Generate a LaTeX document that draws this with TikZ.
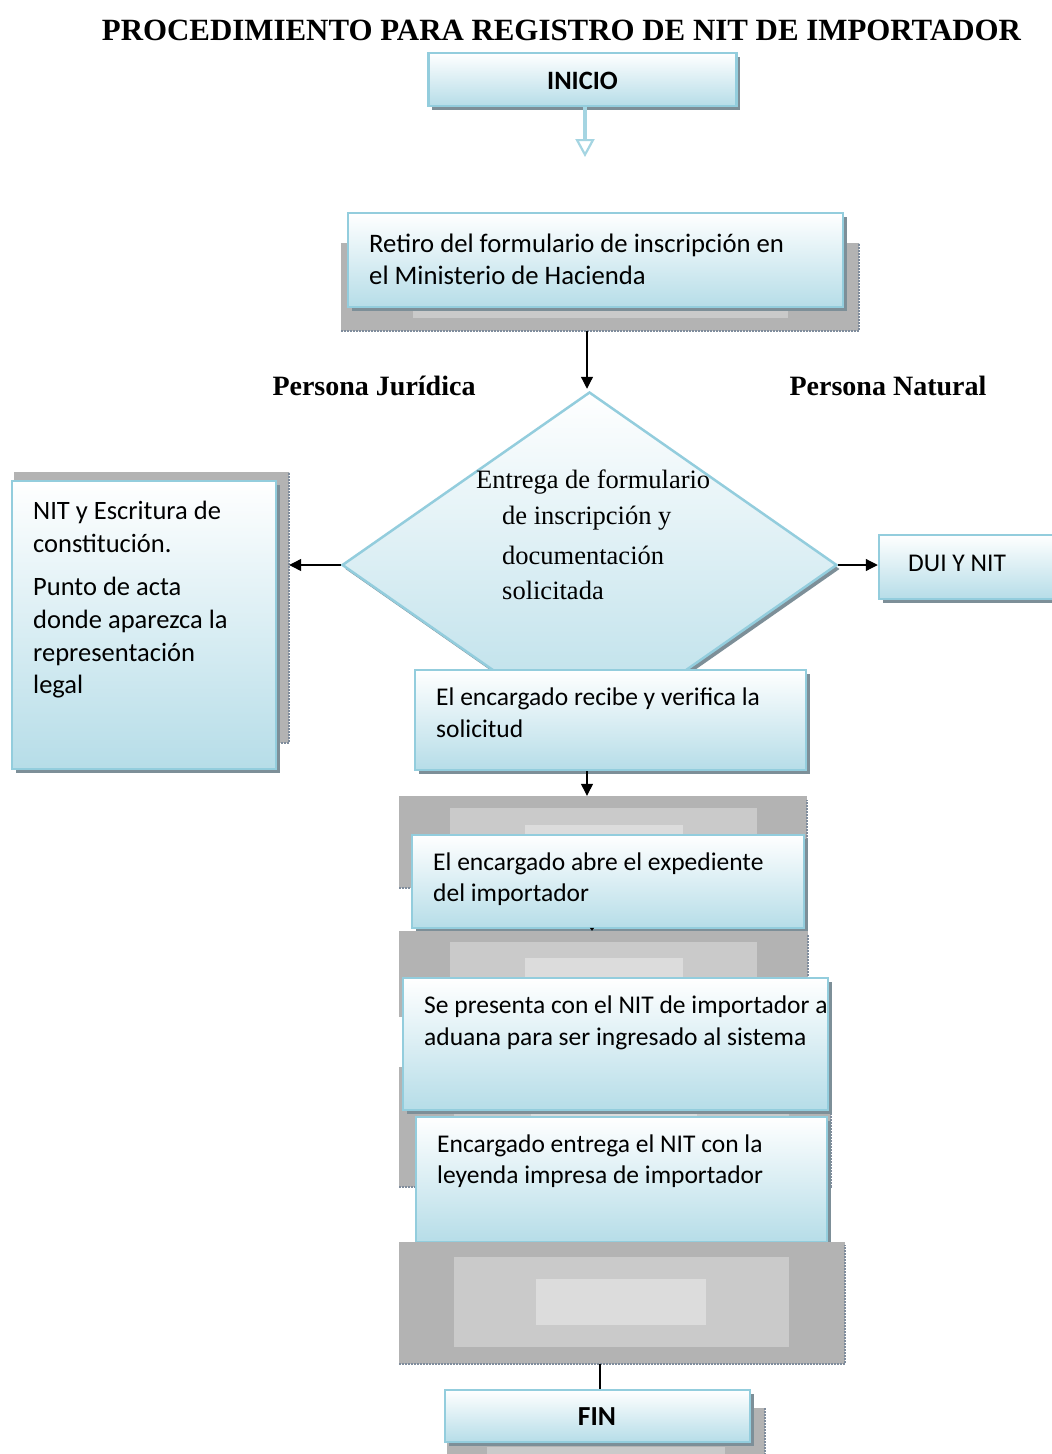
\documentclass[tikz,border=0pt]{standalone}
\usepackage{fontspec}
\setmainfont{Liberation Serif}
\newfontfamily\calfont{Carlito}
\usetikzlibrary{arrows.meta,shapes.geometric,shadows}
\definecolor{bborder}{HTML}{93CDDD}
\definecolor{bfill}{HTML}{B6DDE8}
\definecolor{shd}{HTML}{7D8F98}
\definecolor{g1}{HTML}{B3B3B3}
\definecolor{g2}{HTML}{CACACA}
\definecolor{g3}{HTML}{DCDCDC}
\definecolor{gedge}{HTML}{7F8C9C}
\definecolor{arrblue}{HTML}{A5D5E2}
\tikzset{
  bx/.style={draw=bborder, line width=2.5pt, top color=white, bottom color=bfill, inner sep=0pt,
    drop shadow={shadow xshift=3.5pt, shadow yshift=-3.5pt, fill=shd, opacity=1}},
  gbk/.style={fill=g1, draw=none, inner sep=0pt},
  dotedge/.style={draw=gedge, line width=1.5pt, dash pattern=on 2pt off 1pt},
  ct/.style={font=\calfont\fontsize{25.5}{31}\selectfont, anchor=base west, inner sep=0pt},
  ctb/.style={font=\calfont\fontsize{26.7}{32}\selectfont, anchor=base west, inner sep=0pt},
  ctl/.style={font=\calfont\fontsize{26.5}{33}\selectfont, anchor=base west, inner sep=0pt},
  st/.style={font=\fontsize{26.5}{32}\selectfont, anchor=base west, inner sep=0pt},
  lbl/.style={font=\fontsize{28}{32}\selectfont\bfseries, anchor=base, inner sep=0pt},
  arr/.style={black, line width=1.2pt, -{Triangle[length=12pt,width=12pt]}},
}
\begin{document}
\begin{tikzpicture}[x=1pt,y=-1pt]
\useasboundingbox (0,0) rectangle (1052,1454);
\fill[white] (0,0) rectangle (1052,1454);

% title
\node[font=\fontsize{30.9}{36}\selectfont\bfseries, anchor=base, inner sep=0pt] (title) at (561.5,40) {PROCEDIMIENTO PARA REGISTRO DE NIT DE IMPORTADOR};

% INICIO
\node[bx, minimum width=308, minimum height=53] (inicio) at (582.5,79.5) {};
\node[font=\calfont\fontsize{26.5}{30}\selectfont\bfseries, anchor=base, inner sep=0pt] (inicioT) at (582.5,89) {INICIO};
\coordinate (a1) at (585,157);
\draw[line width=4pt, arrblue, -{Triangle[open, length=18pt, width=19pt, line width=2.2pt]}] (inicio.south -| a1) -- (a1);

% Retiro
\node[gbk, minimum width=518, minimum height=88] (retB) at (600,287) {};
\fill[g2] (413,307) rectangle (788,318);
\draw[dotedge] (341,331) -- (859,331) -- (859,243);
\node[bx, minimum width=495, minimum height=94] (retiro) at (595.5,260) {};
\node[ctb] (retT1) at (369,252) {Retiro del formulario de inscripción en};
\node[ctb] (retT2) at (369,284) {el Ministerio de Hacienda};

% labels
\node[lbl] (pj) at (374,395) {Persona Jurídica};
\node[lbl] (pn) at (888,395) {Persona Natural};

% left backdrop and box
\node[gbk, minimum width=275, minimum height=271] (leftB) at (151.5,607.5) {};
\draw[dotedge] (14,743) -- (289,743) -- (289,472);
\node[bx, minimum width=264, minimum height=288] (left) at (144,625) {};
\node[ctl] (lt1) at (33,519) {NIT y Escritura de};
\node[ctl] (lt2) at (33,552) {constitución.};
\node[ctl] (lt3) at (33,595) {Punto de acta};
\node[ctl] (lt4) at (33,628) {donde aparezca la};
\node[ctl] (lt5) at (33,661) {representación};
\node[ctl] (lt6) at (33,693) {legal};

% DUI
\node[bx, minimum width=183, minimum height=64] (dui) at (970.5,567) {};
\node[ct] (duiT) at (908,571) {DUI Y NIT};

% diamond
\node[diamond, draw=bborder, line width=2.5pt, top color=white, bottom color=bfill,
  minimum width=495, minimum height=346, inner sep=0pt,
  drop shadow={shadow xshift=3pt, shadow yshift=-4pt, fill=shd, opacity=1}] (dia) at (589.5,565) {};
\node[st] (d1) at (476,488) {Entrega de formulario};
\node[st] (d2) at (502,524) {de inscripción y};
\node[st] (d3) at (502,564) {documentación};
\node[st] (d4) at (502,599) {solicitada};

\coordinate (cx) at (587,0);
\draw[arr, shorten >=2pt] (cx |- retB.south) -- (cx |- dia.north);
\draw[arr] (dia.west) -- (leftB.east |- dia.west);
\draw[arr] (dia.east) -- (dui.west |- dia.east);

% recibe
\node[bx, minimum width=391, minimum height=100] (recibe) at (610.5,720) {};
\node[ct] (rt1) at (436,705) {El encargado recibe y verifica la};
\node[ct] (rt2) at (436,737) {solicitud};

% backdrop 2
\node[gbk, minimum width=408, minimum height=92] (b2) at (603,842) {};
\fill[g2] (450,808) rectangle (757,860);
\fill[g3] (525,825) rectangle (683,860);
\draw[dotedge] (399,888) -- (807,888) -- (807,800);
\draw[arr] (recibe.south -| cx) -- (b2.north -| cx);

% box 3
\node[bx, minimum width=392, minimum height=93] (abre) at (608,881.5) {};
\node[ct] (at1) at (433,870) {El encargado abre el expediente};
\node[ct] (at2) at (433,901) {del importador};

% backdrop 3
\node[gbk, minimum width=409, minimum height=86] (b3) at (603.5,974) {};
\fill[g2] (450,942) rectangle (757,1000);
\fill[g3] (525,958) rectangle (683,1000);
\draw[dotedge] (808,935) -- (808,1017);
\coordinate (t3) at (592,0);
\draw[line width=0.5pt, -{Triangle[length=3pt,width=4pt]}] (abre.south -| t3) -- (b3.north -| t3);

% backdrop 4
\node[gbk, minimum width=432, minimum height=120] (b4) at (615,1127) {};
\fill[g2] (454,1100) rectangle (789,1160);
\fill[g3] (531,1105) rectangle (697,1160);
\draw[dotedge] (399,1187) -- (831,1187) -- (831,1073);

% box 4
\node[bx, minimum width=425, minimum height=132] (presenta) at (615.5,1044) {};
\node[ct] (pt1) at (424,1013) {Se presenta con el NIT de importador a};
\node[ct] (pt2) at (424,1045) {aduana para ser ingresado al sistema};

% box 5
\node[bx, minimum width=411, minimum height=125] (entrega) at (621.5,1179.5) {};
\node[ct] (et1) at (437,1152) {Encargado entrega el NIT con la};
\node[ct] (et2) at (437,1183) {leyenda impresa de importador};

% backdrop 5
\node[gbk, minimum width=446, minimum height=122] (b5) at (622,1303) {};
\fill[g2] (454,1257) rectangle (789,1347);
\fill[g3] (536,1279) rectangle (706,1325);
\draw[dotedge] (399,1364) -- (845,1364) -- (845,1245);

% FIN
\node[gbk, minimum width=318, minimum height=52] (finB) at (606,1434) {};
\fill[g2] (487,1447) rectangle (725,1460);
\draw[dotedge] (765,1408) -- (765,1454);
\node[bx, minimum width=305, minimum height=52] (fin) at (597.5,1416) {};
\node[font=\calfont\fontsize{27.5}{30}\selectfont\bfseries, anchor=base, inner sep=0pt] (finT) at (597,1425) {FIN};
\coordinate (lf) at (600,0);
\draw[line width=1.2pt] (b5.south -| lf) -- (fin.north -| lf);
\end{tikzpicture}
\end{document}
